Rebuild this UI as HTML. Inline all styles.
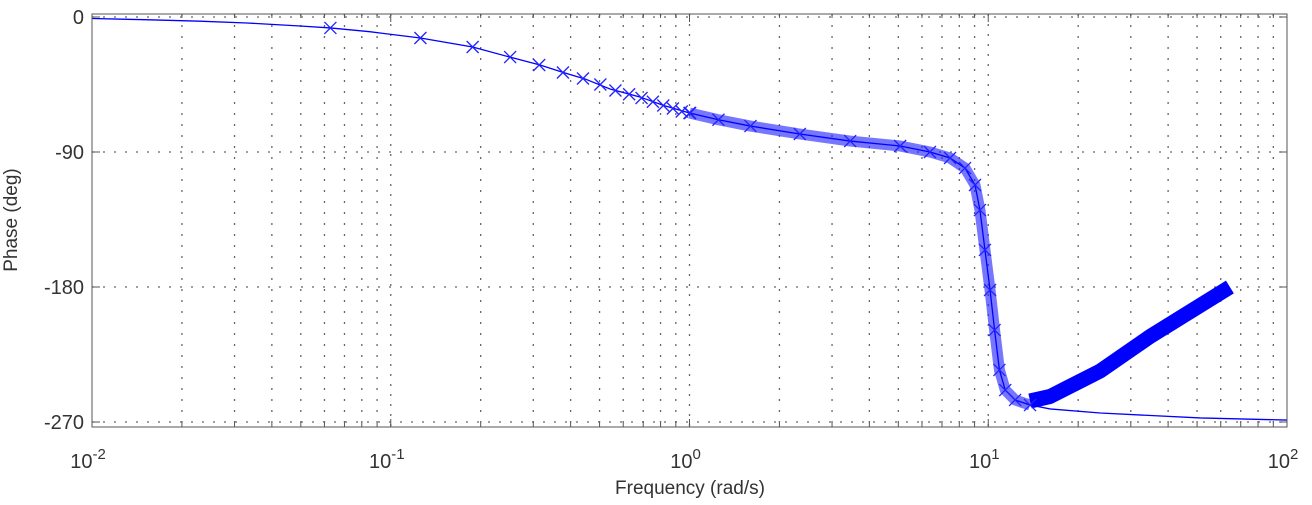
<!DOCTYPE html>
<html><head><meta charset="utf-8"><style>
body{margin:0;background:#fff;font-family:"Liberation Sans",sans-serif;}
svg text{font-family:"Liberation Sans",sans-serif;fill:#333;}
</style></head><body>
<svg id="chart" width="1312" height="500" xmlns="http://www.w3.org/2000/svg">
<g id="grid"></g>
<g id="series"></g>
<rect x="92" y="14" width="1195" height="413" fill="none" stroke="#555" stroke-width="1"/>
<g id="ticks"></g>
<text x="690" y="494" font-size="19" text-anchor="middle">Frequency  (rad/s)</text>
<text transform="translate(17,220) rotate(-90)" font-size="19" text-anchor="middle">Phase (deg)</text>
</svg>
<script>
const lineFreq=[0.01,0.015,0.023,0.033,0.0497,0.0628,0.085,0.1257,0.188,0.25,0.316,0.383,0.447,0.542,0.682,0.82,1.0,1.25,1.6,2.34,3.45,5.07,6.38,7.45,8.36,9.03,9.38,9.75,10.14,10.5,10.9,11.4,12.3,13.8,16.1,23.7,51.2,100];
const linePhase=[-1,-1.8,-2.8,-4,-6,-7.3,-9.8,-14,-20,-26.7,-32,-37.3,-41.3,-48,-53.3,-59,-64,-68.5,-72.7,-78,-82.7,-86,-90,-94,-100.7,-112,-128.7,-155.3,-182,-208.7,-235.3,-248.7,-255.3,-258.7,-261.3,-264,-267.3,-268.7];
const markerFreq=[0.0628,0.1257,0.188,0.251,0.314,0.377,0.44,0.503,0.565,0.628,0.691,0.754,0.817,0.88,0.942,1.005];
const markerPhase=[-7.3,-14,-20,-26.7,-32,-37,-41,-45,-49,-51.5,-54,-56.5,-59,-61,-63,-64];
const bandFreq=[13.8,16.1,23.7,34.8,64.4];
const bandPhase=[-256,-253,-236,-213,-180];
const yTicks=[0,-90,-180,-270];
const xDecades=[-2,-1,0,1,2];
const NS='http://www.w3.org/2000/svg';
const X0=92,X1=1287,Y0=14,Y1=427;
const xs=w=>X0+(Math.log10(w)+2)/4*(X1-X0);
const ys=p=>17-p*1.5;
function mk(tag,attrs,parent){const e=document.createElementNS(NS,tag);for(const k in attrs)e.setAttribute(k,attrs[k]);parent.appendChild(e);return e;}
const grid=document.getElementById('grid'),ser=document.getElementById('series'),tk=document.getElementById('ticks');
for(let d=-2;d<2;d++)for(let m=1;m<10;m++){const x=xs(m*Math.pow(10,d));if(m===1&&d===-2)continue;
 const l=mk('line',{x1:x,x2:x,y1:Y0,y2:Y1,stroke:'#666','stroke-width':1.3,'stroke-dasharray':m===1?'2,8':'2,9'},grid);
 
 mk('line',{x1:x,x2:x,y1:Y1,y2:Y1-(m===1?8:4),stroke:'#555'},grid);mk('line',{x1:x,x2:x,y1:Y0,y2:Y0+(m===1?8:4),stroke:'#555'},grid);}
yTicks.forEach(p=>{const y=ys(p);
 const l=mk('line',{x1:X0,x2:X1,y1:y,y2:y,stroke:'#666','stroke-width':1.3,'stroke-dasharray':'2,9'},grid);
 
 mk('line',{x1:X0,x2:X0+8,y1:y,y2:y,stroke:'#555'},grid);mk('line',{x1:X1,x2:X1-8,y1:y,y2:y,stroke:'#555'},grid);
 const t=mk('text',{x:84,y:y+7,'font-size':20,'text-anchor':'end'},tk);t.textContent=p;
 });
xDecades.forEach(d=>{const x=xs(Math.pow(10,d));
 const t=mk('text',{x:x-4,y:468,'font-size':20,'text-anchor':'middle'},tk);
 
 t.textContent='10';const s=mk('tspan',{dy:-9,'font-size':15},t);s.textContent=String(d);});
const pts=lineFreq.map((w,i)=>xs(w)+','+ys(linePhase[i])).join(' ');
const dense=lineFreq.map((w,i)=>[w,linePhase[i]]).filter(a=>a[0]>=1&&a[0]<=13.8);
const dp=mk('polyline',{points:dense.map(a=>xs(a[0])+','+ys(a[1])).join(' '),fill:'none',stroke:'#1a1aff','stroke-width':11,'stroke-opacity':0.6,'stroke-linejoin':'round'},ser);

const bp=mk('polyline',{points:bandFreq.map((w,i)=>xs(w)+','+ys(bandPhase[i])).join(' '),fill:'none',stroke:'#0000ff','stroke-width':15,'stroke-linejoin':'round'},ser);

const pl=mk('polyline',{points:pts,fill:'none',stroke:'#0000ff','stroke-width':1.3},ser);

function cross(x,y){const g=mk('path',{d:`M${x-6},${y-6}L${x+6},${y+6}M${x-6},${y+6}L${x+6},${y-6}`,stroke:'#2222ff','stroke-width':1.3,fill:'none'},ser);
 }
markerFreq.forEach((w,i)=>cross(xs(w),ys(markerPhase[i])));
dense.forEach(a=>cross(xs(a[0]),ys(a[1])));
</script>
</body></html>
